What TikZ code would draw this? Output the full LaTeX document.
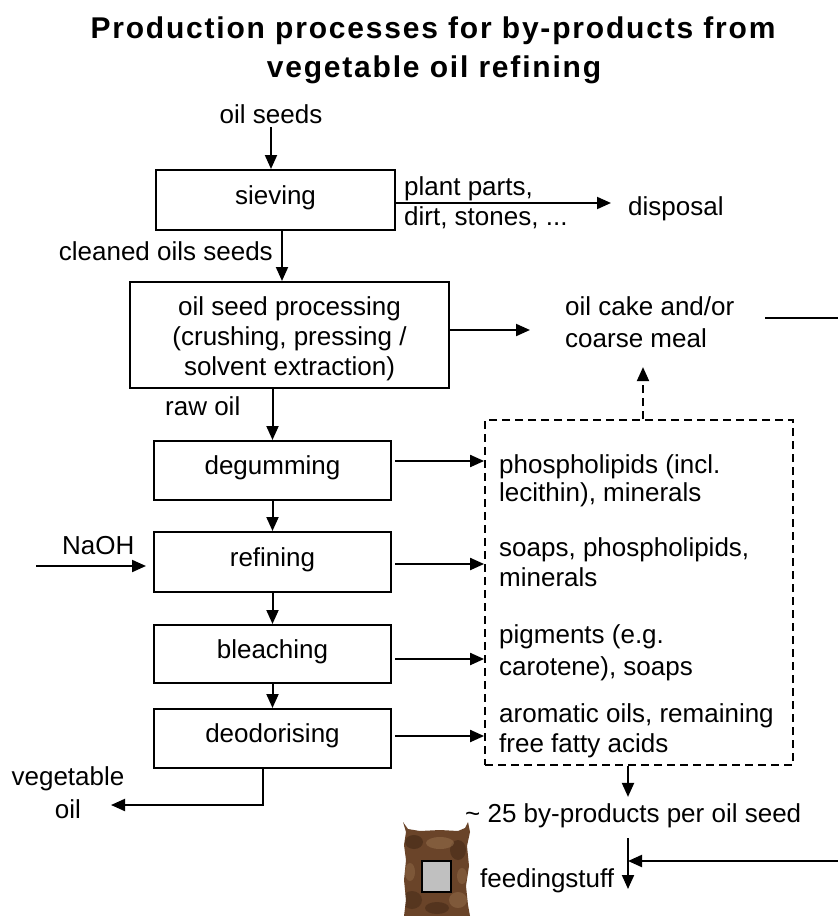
\documentclass[tikz,border=0pt]{standalone}
\usepackage{fontspec}
\setmainfont{Liberation Sans}
\newfontfamily\headfont{Liberation Sans}[LetterSpace=6]
\usetikzlibrary{arrows.meta}

\definecolor{sackmid}{HTML}{6A4429}
\definecolor{sackdark}{HTML}{3F2614}
\definecolor{sacklight}{HTML}{9A7450}
\definecolor{tagfill}{HTML}{C0C0C0}

% outline of the feed sack
\newcommand\sackoutline{(403,822) -- (408,829) -- (420,831) -- (440,830) -- (458,831)
  -- (465,828) -- (468,822) -- (470,832) -- (467,846) -- (469,866) -- (466,886)
  -- (468,905) -- (470,916) -- (404,916) -- (406,900) -- (404,880) -- (406,860)
  -- (404,845) -- (406,832) -- cycle}

\begin{document}
\begin{tikzpicture}[x=1pt,y=-1pt,
  every node/.style={font=\fontsize{26}{30}\selectfont, inner sep=0pt},
  txt/.style={anchor=base west},
  ctxt/.style={anchor=base},
  headline/.style={anchor=base, font=\headfont\bfseries\fontsize{30}{36}\selectfont},
  procbox/.style={draw, line width=2pt, minimum width=237pt, minimum height=59pt,
    text height=18pt, text depth=10pt},
  flow/.style={line width=2pt, -{Triangle[length=14pt,width=12pt]}},
  link/.style={line width=2pt},
  dashbox/.style={draw, line width=1.8pt, dash pattern=on 8pt off 5pt}
]
\fill[white] (0,0) rectangle (838,916);
\useasboundingbox (0,0) rectangle (838,916);

% heading
\node[headline] (title1) at (433,38) {Production processes for by-products from};
\node[headline] (title2) at (434,77) {vegetable oil refining};

% main process chain
\node[ctxt] (seeds) at (271,123) {oil seeds};
\node[procbox, minimum width=239pt, minimum height=60pt] (sieve) at (275.5,200) {sieving};
\node[anchor=base east] (cleaned) at (273,260) {cleaned oils seeds};
\node[draw, line width=2pt, minimum width=319pt, minimum height=106pt] (proc) at (289.5,335) {};
\node[align=center] (proctxt) at (289.5,338.5)
  {oil seed processing\\(crushing, pressing /\\solvent extraction)};
\node[txt] (rawoil) at (165,415) {raw oil};
\node[procbox] (deg) at (272.5,470.5) {degumming};
\node[procbox, minimum height=60pt] (ref) at (272.5,562) {refining};
\node[procbox, minimum height=58pt] (ble) at (272.5,654) {bleaching};
\node[procbox] (deo) at (272.5,738.5) {deodorising};
\node[txt] (naoh) at (62,554) {NaOH};
\node[ctxt] (veg1) at (68,785) {vegetable};
\node[ctxt] (veg2) at (68,818) {oil};

% side streams
\node[txt] (plant1) at (404,195) {plant parts,};
\node[txt] (plant2) at (404,225) {dirt, stones, ...};
\node[txt] (disp) at (628,215) {disposal};
\node[txt] (cake1) at (565,315) {oil cake and/or};
\node[txt] (cake2) at (565,347) {coarse meal};

% collected by-products
\node[dashbox, minimum width=308pt, minimum height=345pt] (dbx) at (639,592.5) {};
\node[txt] (bp1a) at (499,473) {phospholipids (incl.};
\node[txt] (bp1b) at (499,501) {lecithin), minerals};
\node[txt] (bp2a) at (499,556) {soaps, phospholipids,};
\node[txt] (bp2b) at (499,586) {minerals};
\node[txt] (bp3a) at (499,643) {pigments (e.g.};
\node[txt] (bp3b) at (499,675) {carotene), soaps};
\node[txt] (bp4a) at (499,722) {aromatic oils, remaining};
\node[txt] (bp4b) at (499,752) {free fatty acids};
\node[txt] (byp) at (465,822) {\textasciitilde\ 25 by-products per oil seed};
\node[txt] (feed) at (480,887) {feedingstuff};

% free ends of connectors
\coordinate (naohIn) at (36,566);
\coordinate (vegIn) at (111,805);
\coordinate (cakeOut) at (765,318);
\coordinate (edgeA) at (838,318);
\coordinate (edgeB) at (838,861);
\coordinate (feedTop) at (628,838);
\coordinate (feedEnd) at (628,889);

% connectors of the main chain
\draw[flow] (seeds.south |- 0,127) -- (seeds.south |- sieve.north);
\draw[flow] ([xshift=6.5pt]sieve.south) -- ([xshift=6.5pt]sieve.south |- proc.north);
\draw[flow] (proc.south -| deg.north) -- (deg.north);
\draw[flow] (deg) -- (ref);
\draw[flow] (ref) -- (ble);
\draw[flow] (ble) -- (deo);
\draw[flow, shorten >=7pt] (naohIn) -- (naohIn -| ref.west);
\draw[flow] ([xshift=-9.5pt]deo.south) |- (vegIn);

% connectors of the side streams
\draw[flow, shorten >=17pt] ([yshift=-3pt]sieve.east) -- ([yshift=-3pt]sieve.east -| disp.west);
\draw[flow, shorten >=35pt] ([yshift=5pt]proc.east) -- ([yshift=5pt]proc.east -| cake1.west);
\draw[link] (cakeOut) -- (edgeA);
\draw[flow, shorten <=3pt] ([yshift=9.5pt]deg.east) -- ([yshift=9.5pt]deg.east -| dbx.west);
\draw[flow, shorten <=3pt] ([yshift=-2pt]ref.east) -- ([yshift=-2pt]ref.east -| dbx.west);
\draw[flow, shorten <=3pt] ([yshift=-5pt]ble.east) -- ([yshift=-5pt]ble.east -| dbx.west);
\draw[flow, shorten <=3pt] ([yshift=2.5pt]deo.east) -- ([yshift=2.5pt]deo.east -| dbx.west);
\draw[flow, dash pattern=on 8pt off 5pt] ([xshift=4pt]dbx.north) -- ++(0,-52);
\draw[flow] ([xshift=-11pt]dbx.south) -- ++(0,31);
\draw[flow] (feedTop) -- (feedEnd);
\draw[flow] (edgeB) -- (edgeB -| feedTop);

% feed sack
\fill[sackmid] \sackoutline;
\begin{scope}
  \clip \sackoutline;
  \fill[sackdark, opacity=.55] (414,842) ellipse (9 and 7);
  \fill[sackdark, opacity=.5] (458,850) ellipse (8 and 10);
  \fill[sacklight, opacity=.5] (440,843) ellipse (14 and 6);
  \fill[sackdark, opacity=.45] (412,900) ellipse (10 and 9);
  \fill[sacklight, opacity=.45] (458,900) ellipse (9 and 8);
  \fill[sackdark, opacity=.5] (437,908) ellipse (12 and 6);
  \fill[sacklight, opacity=.4] (410,872) ellipse (5 and 9);
  \fill[sacklight, opacity=.4] (462,876) ellipse (5 and 8);
\end{scope}
\node[draw, fill=tagfill, line width=1.5pt, minimum width=29pt, minimum height=31pt] (tag) at (436.5,876.5) {};

\end{tikzpicture}
\end{document}
